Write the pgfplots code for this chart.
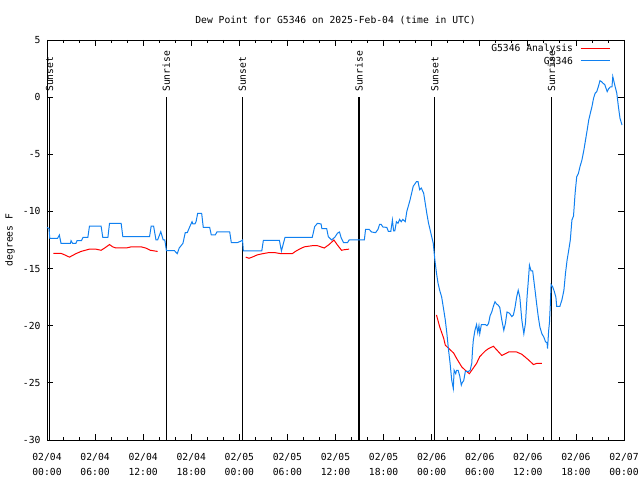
\documentclass[border=0pt]{standalone}
\usepackage{fontspec}
\setmainfont{DejaVu Sans Mono}
\usepackage{pgfplots}
\pgfplotsset{compat=1.18}
\newcommand{\gp}{\fontsize{9.7bp}{14bp}\selectfont}
\newcommand{\gpx}{\fontsize{9.7bp}{14.5bp}\selectfont}
\definecolor{obsblue}{RGB}{16,128,240}
\begin{document}
\begin{tikzpicture}[x=1bp,y=1bp]
\useasboundingbox (0,0) rectangle (640,480);
\begin{axis}[
  at={(47bp,40bp)}, anchor=south west,
  scale only axis, width=577bp, height=400bp,
  xmin=0, xmax=72, ymin=-30, ymax=5,
  xtick={0,6,...,72},
  xticklabels={{02/04\\00:00},{02/04\\06:00},{02/04\\12:00},{02/04\\18:00},{02/05\\00:00},{02/05\\06:00},{02/05\\12:00},{02/05\\18:00},{02/06\\00:00},{02/06\\06:00},{02/06\\12:00},{02/06\\18:00},{02/07\\00:00}},
  minor x tick num=2,
  ytick={-30,-25,...,5},
  yticklabels={-30,-25,-20,-15,-10,-5,0,5},
  tick align=inside,
  major tick length=6bp, minor tick length=3bp,
  tick style={black, line width=0.8bp},
  axis line style={line width=0.8bp},
  xticklabel style={align=center, font=\gpx, yshift=-10bp},
  yticklabel style={font=\gp, xshift=-3bp},
  title={Dew Point for G5346 on 2025-Feb-04 (time in UTC)},
  title style={font=\gp, at={(0.5,1.035)}, anchor=center},
  ylabel={degrees F},
  ylabel style={font=\gp, at={(axis description cs:-0.064,0.5)}, anchor=center},
  clip=false,
]
% Sunrise / sunset markers
\addplot[black, line width=1.2bp, forget plot] coordinates {(0.32,-30) (0.32,0)};
\addplot[black, line width=1.2bp, forget plot] coordinates {(14.88,-30) (14.88,0)};
\addplot[black, line width=1.2bp, forget plot] coordinates {(24.36,-30) (24.36,0)};
\addplot[black, line width=1.2bp, forget plot] coordinates {(38.92,-30) (38.92,0)};
\addplot[black, line width=1.2bp, forget plot] coordinates {(48.40,-30) (48.40,0)};
\addplot[black, line width=1.2bp, forget plot] coordinates {(62.95,-30) (62.95,0)};
\node[rotate=90, anchor=west, inner sep=0pt, font=\gp] at (axis cs:0.32,0.45) {Sunset};
\node[rotate=90, anchor=west, inner sep=0pt, font=\gp] at (axis cs:14.88,0.45) {Sunrise};
\node[rotate=90, anchor=west, inner sep=0pt, font=\gp] at (axis cs:24.36,0.45) {Sunset};
\node[rotate=90, anchor=west, inner sep=0pt, font=\gp] at (axis cs:38.92,0.45) {Sunrise};
\node[rotate=90, anchor=west, inner sep=0pt, font=\gp] at (axis cs:48.40,0.45) {Sunset};
\node[rotate=90, anchor=west, inner sep=0pt, font=\gp] at (axis cs:62.95,0.45) {Sunrise};

% Analysis (red)
\addplot[red, line width=1bp, forget plot] coordinates {
(0.8,-13.67) (1.75,-13.67) (2.2,-13.8) (2.8,-14.0) (3.2,-13.85) (3.6,-13.7)
(4.25,-13.5) (5.3,-13.3) (6.1,-13.3) (6.75,-13.4) (7.2,-13.2) (7.8,-12.9)
(8.2,-13.1) (8.6,-13.2) (9.9,-13.2) (10.5,-13.1) (11.75,-13.1) (12.3,-13.2)
(12.9,-13.4) (13.8,-13.5)};
\addplot[red, line width=1bp, forget plot] coordinates {
(24.8,-14.0) (25.2,-14.1) (25.6,-14.0) (26.25,-13.8) (26.9,-13.7) (27.7,-13.6)
(28.4,-13.6) (29.2,-13.7) (30.6,-13.7) (31.0,-13.5) (31.5,-13.3) (32.1,-13.1)
(33.1,-13.0) (33.75,-13.0) (34.6,-13.2) (35.2,-12.9) (35.8,-12.5) (36.2,-12.9)
(36.75,-13.4) (37.1,-13.35) (37.7,-13.3)};
\addplot[red, line width=1bp, forget plot] coordinates {
(48.6,-19.06) (49.0,-20.1) (49.5,-21.1) (49.7,-21.7) (50.3,-22.1) (50.75,-22.4)
(51.1,-22.85) (51.75,-23.6) (52.2,-23.9) (52.7,-24.2) (53.0,-23.9) (53.6,-23.3)
(54.0,-22.7) (54.7,-22.2) (55.1,-22.0) (55.7,-21.8) (56.1,-22.1) (56.75,-22.6)
(57.2,-22.45) (57.6,-22.3) (58.6,-22.3) (59.25,-22.5) (60.1,-23.0) (60.7,-23.4)
(61.1,-23.3) (61.75,-23.3)};

% Observations (blue)
\addplot[obsblue, line width=1bp, forget plot] coordinates {
(0.0,-11.4) (0.25,-11.5) (0.35,-12.35) (1.33,-12.35) (1.54,-12.06) (1.75,-12.8)
(2.92,-12.8) (3.0,-12.56) (3.2,-12.8) (3.6,-12.8) (3.75,-12.56) (4.3,-12.56)
(4.5,-12.27) (5.1,-12.27) (5.3,-11.28) (6.75,-11.28) (6.96,-12.27) (7.6,-12.27)
(7.8,-11.04) (9.25,-11.04) (9.46,-12.2) (12.8,-12.2) (13.0,-11.28) (13.3,-11.28)
(13.6,-12.5) (13.8,-12.5) (14.2,-11.77) (14.5,-12.5) (14.7,-12.5) (14.9,-13.43)
(15.9,-13.43) (16.25,-13.7) (16.5,-13.2) (16.96,-12.8) (17.25,-11.86) (17.5,-11.86)
(17.9,-11.2) (18.1,-10.9) (18.2,-11.1) (18.45,-11.1) (18.6,-10.9) (18.8,-10.17)
(19.3,-10.17) (19.5,-11.4) (20.3,-11.4) (20.5,-12.06) (21.0,-12.06) (21.2,-11.8)
(22.8,-11.8) (23.0,-12.73) (23.75,-12.73) (24.2,-12.6) (24.4,-12.5) (24.5,-13.46)
(26.8,-13.46) (27.0,-12.53) (29.0,-12.53) (29.25,-13.46) (29.35,-13.2) (29.7,-12.27)
(33.1,-12.27) (33.4,-11.33) (33.75,-11.04) (34.2,-11.1) (34.3,-11.5) (34.9,-11.5)
(35.1,-12.2) (35.5,-12.5) (35.9,-12.27) (36.25,-11.9) (36.5,-11.8) (36.7,-12.3)
(37.0,-12.73) (37.5,-12.73) (37.7,-12.5) (39.6,-12.5) (39.75,-11.57) (40.2,-11.57)
(40.5,-11.8) (41.0,-11.86) (41.3,-11.57) (41.5,-11.13) (41.7,-11.13) (41.9,-11.36)
(42.4,-11.4) (42.6,-11.75) (42.9,-11.75) (43.1,-10.75) (43.25,-11.7) (43.4,-11.7)
(43.6,-10.9) (43.8,-11.04) (44.0,-10.7) (44.2,-10.9) (44.4,-10.7) (44.7,-10.9)
(44.9,-10.0) (45.1,-9.5) (45.3,-9.0) (45.5,-8.4) (45.7,-7.8) (45.9,-7.6)
(46.1,-7.4) (46.3,-7.4) (46.5,-8.1) (46.7,-7.95) (47.0,-8.4) (47.2,-9.3)
(47.4,-10.2) (47.6,-11.0) (47.8,-11.6) (48.2,-12.8) (48.4,-14.25) (48.6,-15.4)
(48.8,-16.3) (49.0,-16.9) (49.25,-17.5) (49.5,-18.6) (49.7,-19.5) (49.9,-20.7)
(50.1,-22.1) (50.3,-23.3) (50.5,-24.75) (50.7,-25.5) (50.8,-23.9) (51.0,-24.2)
(51.1,-23.9) (51.3,-23.9) (51.5,-24.4) (51.7,-25.2) (51.8,-25.0) (52.0,-24.8)
(52.2,-24.0) (52.6,-24.0) (52.8,-23.9) (53.0,-23.3) (53.1,-22.1) (53.2,-21.25)
(53.4,-20.4) (53.6,-19.9) (53.75,-20.6) (53.9,-20.0) (54.0,-20.7) (54.2,-19.9)
(54.7,-19.9) (54.9,-20.0) (55.1,-19.8) (55.3,-19.1) (55.5,-18.8) (55.7,-18.3)
(55.9,-17.9) (56.1,-18.1) (56.3,-18.2) (56.5,-18.4) (56.75,-19.5) (57.0,-20.4)
(57.2,-19.8) (57.4,-18.8) (57.7,-18.9) (58.0,-19.2) (58.2,-19.06) (58.4,-18.4)
(58.6,-17.5) (58.8,-16.9) (59.0,-17.5) (59.25,-19.5) (59.5,-20.7) (59.7,-19.8)
(59.9,-17.5) (60.1,-15.7) (60.2,-14.7) (60.4,-15.2) (60.6,-15.2) (60.9,-16.9)
(61.1,-18.1) (61.3,-19.2) (61.5,-20.1) (61.75,-20.7) (62.0,-21.0) (62.2,-21.4)
(62.4,-21.5) (62.46,-22.0) (62.6,-20.4) (62.7,-19.7) (62.8,-18.2) (62.9,-16.4)
(63.1,-16.6) (63.3,-17.0) (63.5,-17.5) (63.6,-18.3) (64.0,-18.3) (64.25,-17.75)
(64.5,-16.9) (64.7,-15.4) (64.9,-14.25) (65.1,-13.4) (65.3,-12.5) (65.5,-10.75)
(65.7,-10.4) (65.9,-8.4) (66.1,-6.96) (66.3,-6.7) (66.5,-6.1) (66.75,-5.5)
(67.0,-4.6) (67.2,-3.75) (67.4,-2.9) (67.6,-2.0) (67.8,-1.4) (68.0,-0.83)
(68.2,-0.1) (68.4,0.34) (68.6,0.48) (68.8,0.92) (69.0,1.44) (69.2,1.35)
(69.4,1.2) (69.6,1.1) (69.9,0.48) (70.1,0.75) (70.3,0.9) (70.5,0.9)
(70.6,1.8) (70.75,1.35) (70.9,0.9) (71.1,0.35) (71.3,-0.83) (71.5,-1.85)
(71.75,-2.44)};

% Legend (gnuplot style: text, then line sample)
\node[anchor=east, inner sep=0pt, font=\gp] at (rel axis cs:0.912,0.9775) {G5346 Analysis};
\draw[red, line width=1bp] (rel axis cs:0.925,0.9775) -- (rel axis cs:0.976,0.9775);
\node[anchor=east, inner sep=0pt, font=\gp] at (rel axis cs:0.912,0.9475) {G5346};
\draw[obsblue, line width=1bp] (rel axis cs:0.925,0.9475) -- (rel axis cs:0.976,0.9475);
\end{axis}
\end{tikzpicture}
\end{document}
